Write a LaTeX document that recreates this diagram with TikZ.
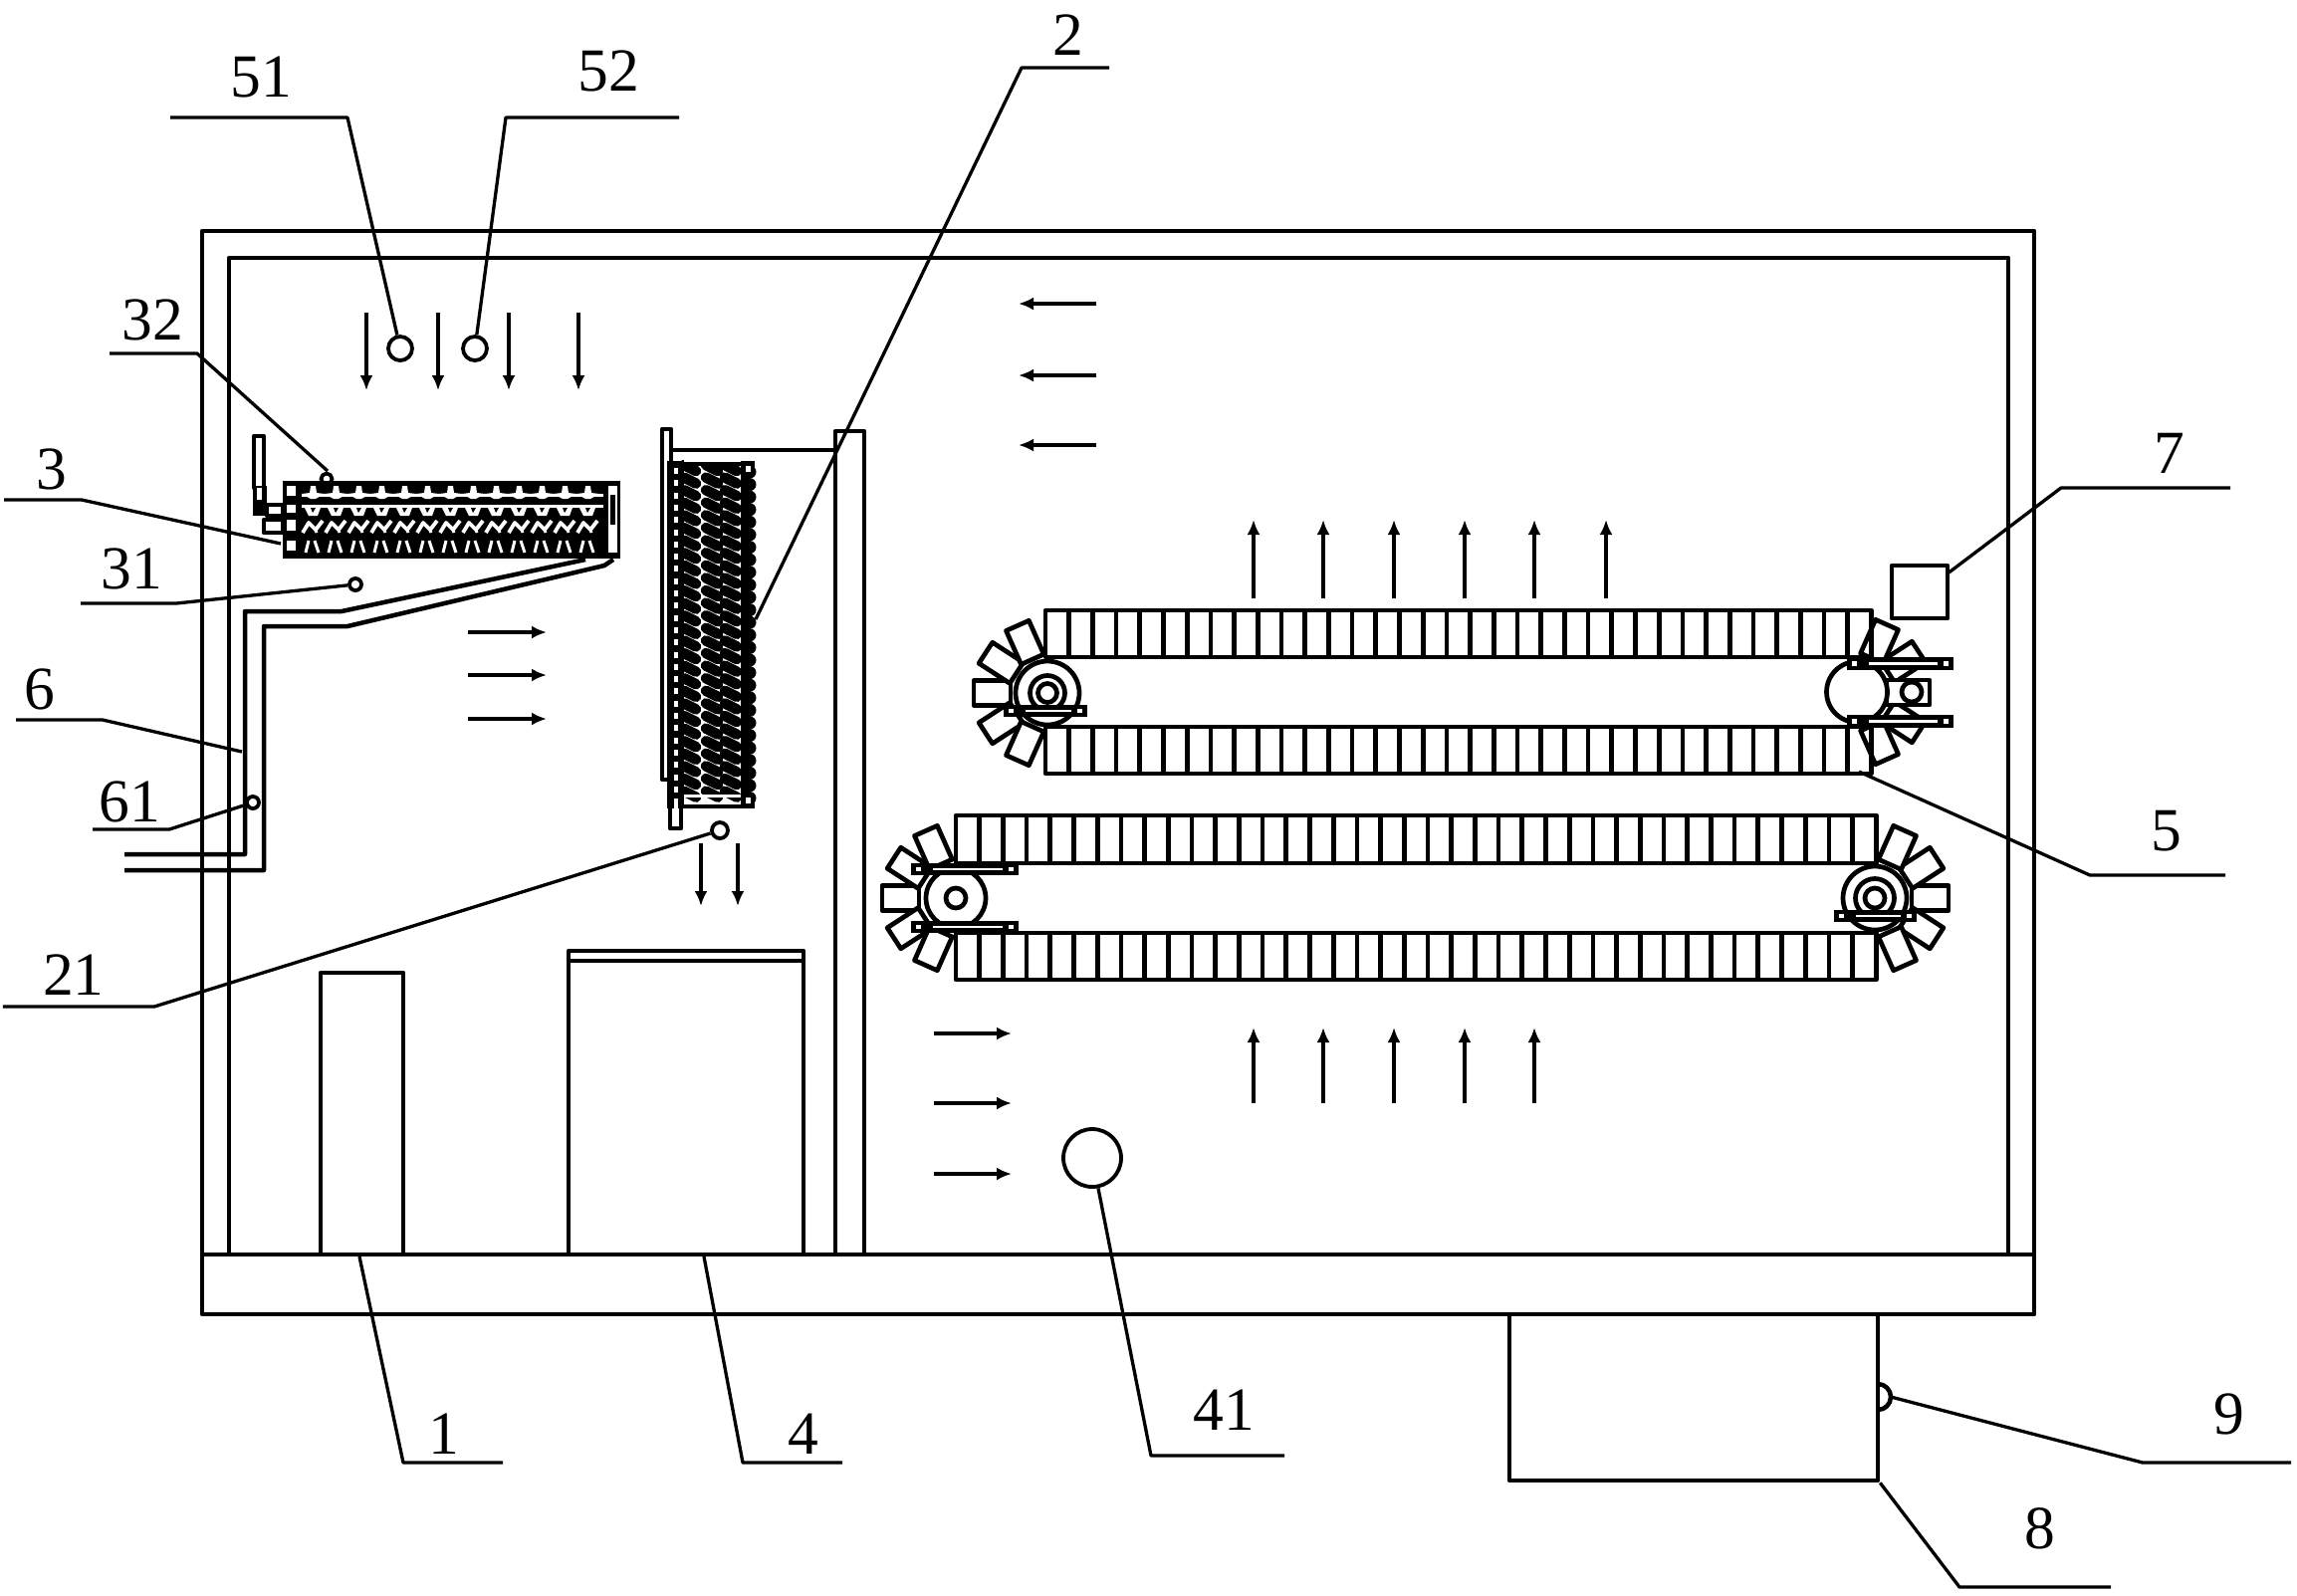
\documentclass[tikz,border=0pt]{standalone}
\usepackage{fontspec}
\setmainfont{Liberation Serif}
\usetikzlibrary{arrows,arrows.meta}

% one belt row: x, top y, cells, height
\newcommand{\beltrow}[4]{
  \draw[belt] (#1,#2) rectangle ++(#3*23.7,#4);
  \foreach \k in {1,...,#3} \draw[belt] (#1+\k*23.7-23.7,#2) -- ++(0,#4);
}
% paddles round a wheel: x, y, angles
\newcommand{\paddles}[3]{
  \foreach \a in {#3} \draw[belt,fill=white,shift={(#1,#2)},rotate=\a] (37,-12.5) rectangle (74,12.5);
}
% black bracket with slots: x1, y1, x2, y2
\newcommand{\bracketbar}[4]{
  \fill (#1,#2) rectangle (#3,#4);
  \fill[white] (#1+5,#2+4) rectangle (#1+10,#4-4);
  \fill[white] (#3-10,#2+4) rectangle (#3-5,#4-4);
  \fill[white] (#1+22,#2+5) rectangle (#3-16,#4-5);
}

\begin{document}
\begin{tikzpicture}[
  x=0.1mm,y=-0.1mm,
  line join=round,
  wall/.style={line width=0.45mm},
  belt/.style={line width=0.47mm},
  pipe/.style={line width=0.45mm},
  lead/.style={line width=0.33mm},
  flow/.style={-{Latex[length=1.5mm,width=1.3mm]},line width=0.38mm},
  boxnode/.style={draw,rectangle,line width=0.45mm,inner sep=0pt,fill=white},
  ring/.style={draw,circle,line width=0.38mm,inner sep=0pt,fill=white},
  lbl/.style={inner sep=0pt,font=\fontsize{17.5}{20}\selectfont}
]
  \useasboundingbox (0,0) rectangle (2307,1602);

  % cabinet
  \draw[wall] (203,232) rectangle (2043,1320);
  \draw[wall] (230,1260) -- (230,259) -- (2017,259) -- (2017,1260);
  \draw[wall] (203,1260) -- (2043,1260);
  \draw[wall] (839,1260) -- (839,433) -- (868,433) -- (868,1260);

  % boxes
  \node[boxnode,minimum width=8.3mm,minimum height=28.3mm] (box1) at (363.5,1118.5) {};
  \node[boxnode,minimum width=23.6mm,minimum height=30.5mm] (box4) at (689,1107.5) {};
  \draw[wall] (571,965) -- (807,965);
  \node[boxnode,minimum width=37mm,minimum height=16.7mm] (box8) at (1701,1403.5) {};
  \node[boxnode,minimum width=5.6mm,minimum height=5.3mm] (sq7) at (1928,594.5) {};
  \node[ring,minimum size=5.8mm] (c41) at (1097,1163) {};
  \draw[wall] (1886,1390) arc (-90:90:13);
  \coordinate (s9) at (1899,1403);

  % air arrows
  \foreach \x in {368,440,511,581} \draw[flow] (\x,314) -- (\x,392);
  \foreach \y in {305,377,447} \draw[flow] (1101,\y) -- (1023,\y);
  \foreach \y in {635,678,722} \draw[flow] (470,\y) -- (549,\y);
  \foreach \x in {1259,1329,1400,1471,1541,1613} \draw[flow] (\x,601) -- (\x,522);
  \foreach \x in {1259,1329,1400,1471,1541} \draw[flow] (\x,1108) -- (\x,1032);
  \foreach \y in {1038,1108,1179} \draw[flow] (938,\y) -- (1016,\y);
  \foreach \x in {704,741} \draw[flow] (\x,847) -- (\x,910);

  % sensors
  \node[ring,minimum size=2.4mm] (c51) at (402,350) {};
  \node[ring,minimum size=2.4mm] (c52) at (477,350) {};
  \node[ring,minimum size=1.6mm] (c21) at (723,834) {};
  \node[ring,minimum size=1.2mm] (c31) at (357,587) {};
  \node[ring,minimum size=1.2mm] (c61) at (254,806) {};
  \node[ring,minimum size=1.1mm] (c32) at (328,481) {};

  % evaporator
  \fill (284,483) rectangle (623,561);
  \draw[pipe] (255,438) rectangle (265,490);
  \draw[pipe,fill=white] (268,507) rectangle (284,518);
  \draw[pipe,fill=white] (265,522) rectangle (284,535);
  \fill (254,488) rectangle (268,518);
  \fill[white] (258,490) rectangle (263,502);
  \foreach \y/\h in {488/10,507/8,522/11,543/10} \fill[white] (288,\y) rectangle ++(9,\h);
  \fill[white] (611,488) rectangle (620,555);
  \fill (613,497) rectangle (618,527);
  \fill[white] (303,507) rectangle (606,510);
  \fill[white] (303,496) rectangle (606,499);
  \foreach \k in {0,...,12} {
    \fill[white] (303+\k*23,496) -- (303+\k*23+8,495) -- (303+\k*23+9,488) -- (303+\k*23+14,488)
      -- (303+\k*23+15,495) -- (303+\k*23+23,496) -- (303+\k*23+14,501) -- (303+\k*23+9,501) -- cycle;
    \fill[white] (303+\k*23+3,510) -- (303+\k*23+7,518) -- (303+\k*23+16,518) -- (303+\k*23+19,510) -- cycle;
    \fill (303+\k*23+9,510) -- (303+\k*23+14,510) -- (303+\k*23+11,515) -- cycle;
    \draw[white,line width=0.38mm] (303+\k*23+1,535) -- (303+\k*23+7,525) -- (303+\k*23+14,532) -- (303+\k*23+21,523);
    \draw[white,line width=0.3mm] (303+\k*23+14,532) -- (303+\k*23+15,535);
    \draw[white,line width=0.3mm] (303+\k*23+4,555) -- (303+\k*23+7,543);
    \draw[white,line width=0.3mm] (303+\k*23+13,543) -- (303+\k*23+17,555);
  }

  % condenser
  \draw[pipe] (665,431) rectangle (674,783);
  \draw[pipe] (672,452) -- (839,452);
  \draw[pipe,fill=white] (673,810) rectangle (684,832);
  \fill (670,463) rectangle (758,812);
  \fill[white] (687,468) rectangle (744,798);
  \fill[white] (687,801) rectangle (744,808);
  \foreach \k in {0,...,26} {
    \fill[white] (677,470+\k*12.3) rectangle ++(4,6);
  }
  \fill[white] (754,474) rectangle (762,798);
  \fill[white] (677,802) rectangle (681,812);
  \foreach \k in {0,...,26} {
    \fill (753,474+\k*12.6) circle (0.65mm);
    \foreach \x in {693,715,734}
      \draw[line width=1.05mm,line cap=round] (\x-6,470+\k*12.6-3) -- (\x+6,470+\k*12.6+3);
  }
  \fill[white] (687,798) rectangle (744,801);
  \fill[white] (687,461) rectangle (744,464);
  \fill[white] (749,468) rectangle (754,474);
  \fill[white] (749,801) rectangle (754,807);

  % pipes
  \draw[pipe] (588,562) -- (343,614) -- (246,614) -- (246,858) -- (125,858);
  \draw[pipe] (616,562) -- (607,568) -- (349,629) -- (265,629) -- (265,874) -- (125,874);

  % upper belt
  \paddles{1052}{696}{180,147,213,114,246}
  \paddles{1865}{695}{33,-33,66,-66}
  \beltrow{1050}{613}{35}{47}
  \beltrow{1050}{730}{35}{47}
  \draw[belt,fill=white] (1052,696) circle (3.2mm);
  \draw[belt] (1052,696) circle (1.75mm);
  \draw[belt] (1052,696) circle (0.95mm);
  \bracketbar{1008}{708}{1092}{720}
  \draw[belt,fill=white] (1895,683) rectangle (1938,708);
  \draw[belt,fill=white] (1865,695) circle (3.05mm);
  \draw[belt] (1920,695) circle (1mm);
  \bracketbar{1855}{660}{1962}{673}
  \bracketbar{1855}{718}{1962}{731}

  % lower belt
  \paddles{960}{902}{180,147,213,114,246}
  \paddles{1883}{902}{0,33,-33,66,-66}
  \beltrow{960}{819}{39}{48}
  \beltrow{960}{937}{39}{47}
  \draw[belt,fill=white] (960,902) circle (3mm);
  \draw[belt] (960,902) circle (1mm);
  \bracketbar{915}{867}{1023}{879}
  \bracketbar{915}{925}{1023}{937}
  \draw[belt,fill=white] (1883,902) circle (3.2mm);
  \draw[belt] (1883,902) circle (1.95mm);
  \draw[belt] (1883,902) circle (1mm);
  \bracketbar{1842}{914}{1925}{926}

  % labels
  \node[lbl] (n51) at (262,77) {51};
  \node[lbl] (n52) at (611,71) {52};
  \node[lbl] (n2) at (1073,35) {2};
  \node[lbl] (n32) at (153,321) {32};
  \node[lbl] (n3) at (52,471) {3};
  \node[lbl] (n31) at (132,571) {31};
  \node[lbl] (n6) at (40,692) {6};
  \node[lbl] (n61) at (130,805) {61};
  \node[lbl] (n21) at (74,979) {21};
  \node[lbl] (n1) at (446,1440) {1};
  \node[lbl] (n4) at (807,1440) {4};
  \node[lbl] (n41) at (1229,1416) {41};
  \node[lbl] (n9) at (2239,1420) {9};
  \node[lbl] (n8) at (2049,1535) {8};
  \node[lbl] (n5) at (2176,835) {5};
  \node[lbl] (n7) at (2179,455) {7};

  % leader ends
  \coordinate (t32) at (329,473);
  \coordinate (t3) at (282,546);
  \coordinate (t6) at (243,755);
  \coordinate (t2) at (759,622);
  \coordinate (t1) at (361,1262);
  \coordinate (t4) at (707,1262);
  \coordinate (t5) at (1867,775);
  \coordinate (t7) at (1956,576);

  % leaders
  \draw[lead] (171,118) -- (349,118) -- (c51);
  \draw[lead] (682,118) -- (508,118) -- (c52);
  \draw[lead] (1114,68) -- (1026,68) -- (t2);
  \draw[lead] (110,355) -- (198,355) -- (t32);
  \draw[lead] (4,502) -- (82,502) -- (t3);
  \draw[lead] (81,606) -- (177,606) -- (c31);
  \draw[lead] (16,723) -- (103,723) -- (t6);
  \draw[lead] (93,833) -- (170,833) -- (c61);
  \draw[lead] (3,1011) -- (155,1011) -- (c21);
  \draw[lead] (505,1469) -- (405,1469) -- (t1);
  \draw[lead] (846,1469) -- (746,1469) -- (t4);
  \draw[lead] (1290,1462) -- (1156,1462) -- (c41);
  \draw[lead] (2301,1469) -- (2152,1469) -- (s9);
  \draw[lead] (2120,1594) -- (1968,1594) -- (box8.south east);
  \draw[lead] (2235,879) -- (2099,879) -- (t5);
  \draw[lead] (2240,490) -- (2070,490) -- (t7);

\end{tikzpicture}
\end{document}
